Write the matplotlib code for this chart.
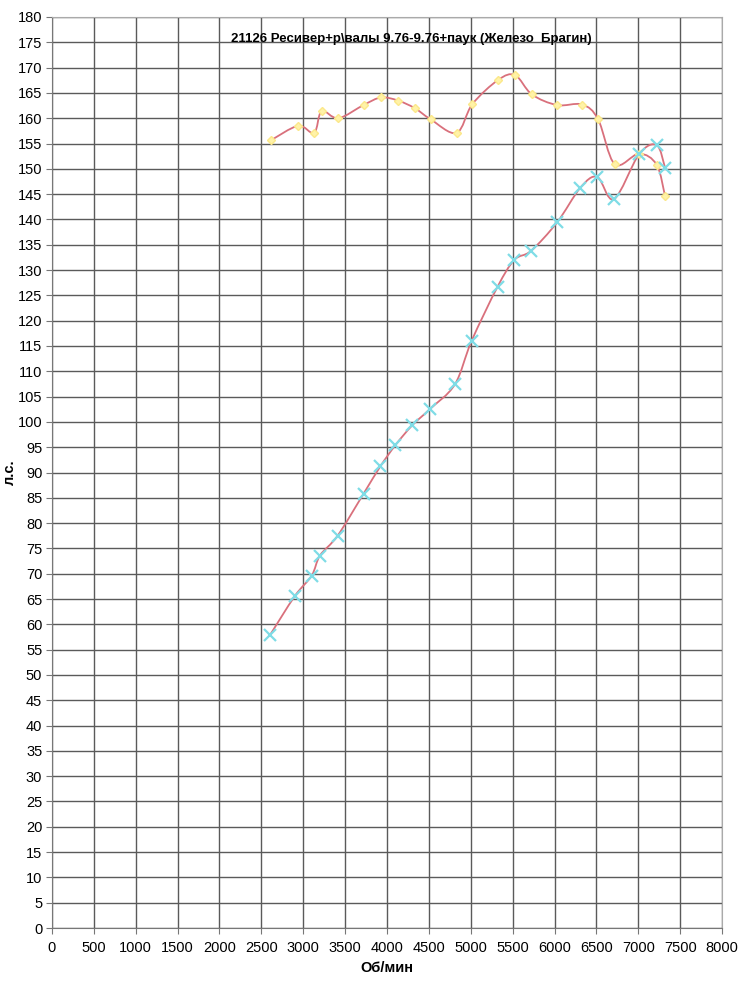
import matplotlib
matplotlib.use("Agg")
import matplotlib.pyplot as plt
from matplotlib.path import Path
from matplotlib.patches import PathPatch
import numpy as np

plt.rcParams['font.family'] = ['Liberation Sans', 'DejaVu Sans']

title = "21126 Ресивер+р\\валы 9.76-9.76+паук (Железо  Брагин)"
x_label = "Об/мин"
y_label = "л.с."

rpm_upper = [2620, 2940, 3130, 3220, 3420, 3730, 3930, 4130, 4330, 4520, 4830,
             5020, 5330, 5530, 5730, 6030, 6330, 6520, 6720, 7010, 7220, 7320]
hp_upper = [155.7, 158.5, 157.1, 161.4, 160.0, 162.7, 164.1, 163.5, 162.0, 159.8, 157.1,
            162.8, 167.6, 168.5, 164.7, 162.6, 162.7, 159.8, 150.9, 153.0, 150.8, 144.6]

rpm_lower = [2600, 2900, 3100, 3200, 3410, 3720, 3920, 4100, 4300, 4510, 4810,
             5010, 5320, 5520, 5720, 6030, 6310, 6510, 6710, 7010, 7220, 7320]
hp_lower = [57.8, 65.6, 69.6, 73.6, 77.5, 85.8, 91.2, 95.4, 99.3, 102.5, 107.4,
            116.0, 126.7, 132.0, 133.8, 139.4, 146.3, 148.4, 144.0, 152.9, 154.7, 150.2]

x_ticks = list(range(0, 8001, 500))
y_ticks = list(range(0, 181, 5))


def smooth_path(xs, ys, t=1.0 / 6):
    xs = np.asarray(xs, float)
    ys = np.asarray(ys, float)
    n = len(xs)
    verts = [(xs[0], ys[0])]
    codes = [Path.MOVETO]
    for i in range(n - 1):
        p0 = np.array([xs[max(i - 1, 0)], ys[max(i - 1, 0)]])
        p1 = np.array([xs[i], ys[i]])
        p2 = np.array([xs[i + 1], ys[i + 1]])
        p3 = np.array([xs[min(i + 2, n - 1)], ys[min(i + 2, n - 1)]])
        c1 = p1 + (p2 - p0) * t
        c2 = p2 - (p3 - p1) * t
        verts += [tuple(c1), tuple(c2), tuple(p2)]
        codes += [Path.CURVE4, Path.CURVE4, Path.CURVE4]
    return Path(verts, codes)


fig = plt.figure(figsize=(7.5, 10), dpi=100)
ax = fig.add_axes([0.0693, 0.072, 0.8934, 0.911])

line_color = '#d9707c'
for xs, ys in [(rpm_upper, hp_upper), (rpm_lower, hp_lower)]:
    ax.add_patch(PathPatch(smooth_path(xs, ys), facecolor='none',
                           edgecolor=line_color, lw=1.3, zorder=3))

ax.plot(rpm_upper, hp_upper, linestyle='none', marker='D', ms=4.5,
        color='#fff2a8', mec='#fbe88a', zorder=4)
ax.plot(rpm_lower, hp_lower, linestyle='none', marker='x', ms=8, mew=1.6,
        color='#7fdce6', zorder=5)

ax.set_xlim(0, 8000)
ax.set_ylim(0, 180)
ax.set_xticks(x_ticks)
ax.set_yticks(y_ticks)
ax.grid(True, color='#5a5a5a', lw=1.0)
ax.set_axisbelow(True)
for s in ['top', 'right']:
    ax.spines[s].set_color('#aaaaaa')
for s in ['left', 'bottom']:
    ax.spines[s].set_color('#777777')
ax.tick_params(axis='both', direction='out', length=4, color='#777777',
               labelsize=10.5, pad=3)
ax.tick_params(axis='x', pad=5)

ax.text(4290, 175.7, title, ha='center', va='center', fontsize=9.5,
        fontweight='bold', family=['Liberation Sans Narrow', 'Liberation Sans', 'DejaVu Sans'])
ax.set_xlabel(x_label, fontsize=10.5, fontweight='bold', labelpad=5)
ax.set_ylabel(y_label, fontsize=10.5, fontweight='bold', va='center')
ax.yaxis.set_label_coords(-0.063, 0.5)

fig.savefig('out.png', dpi=100, facecolor='white')
